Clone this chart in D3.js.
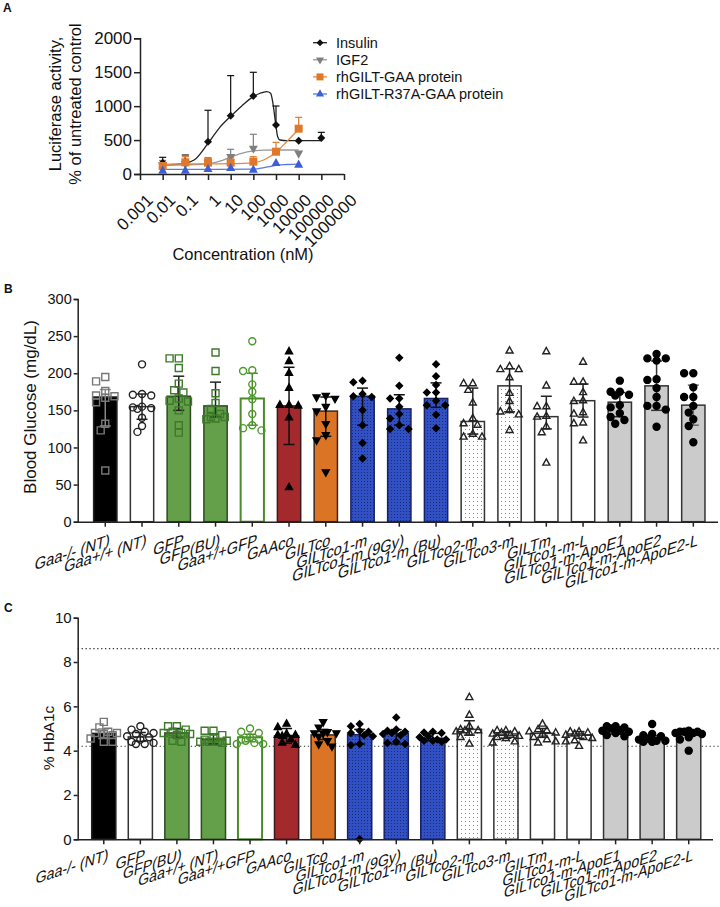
<!DOCTYPE html>
<html><head><meta charset="utf-8">
<script src="https://cdn.jsdelivr.net/npm/d3@7"></script>
<style>
body{margin:0;background:#fff;}
text{font-family:"Liberation Sans",Arial,sans-serif;fill:#111;}
</style>
</head><body>
<svg id="chart" width="720" height="907"></svg>
<script>
// ---------------- Panel A data ----------------
const concTicks = [0.001, 0.01, 0.1, 1, 10, 100, 1000, 10000, 100000, 1000000];
const concLabels = ["0.001","0.01","0.1","1","10","100","1000","10000","100000","1000000"];
const aTicks = [0, 500, 1000, 1500, 2000];
const seriesNames = ["Insulin", "IGF2", "rhGILT-GAA protein", "rhGILT-R37A-GAA protein"];

const insulinX = [0.01, 0.1, 1, 10, 100, 1000, 10000, 100000];
const insulinY = [167, 182, 477, 860, 1150, 722, 491, 531];
const insulinTop = [246, 280, 939, 1450, 1499, 1002, 491, 614];
const insulinFitX = [0.01, 0.03, 0.1, 0.3, 1, 3, 10, 30, 100, 200, 389, 580, 713, 844, 1000, 1185, 1510, 3000, 100000];
const insulinFitY = [133, 140, 160, 230, 450, 670, 850, 1000, 1140, 1190, 1214, 1190, 1066, 894, 704, 550, 501, 491, 491];

const igf2X = [0.01, 0.1, 1, 10, 100, 1000, 10000];
const igf2Y = [135, 150, 160, 255, 378, 345, 305];
const igf2Top = [200, 270, 240, 364, 585, 345, 305];
const igf2FitX = [0.01, 0.1, 1, 3, 10, 30, 100, 300, 1000, 10000];
const igf2FitY = [130, 135, 150, 185, 250, 305, 340, 352, 354, 354];

const gaaX = [0.01, 0.1, 1, 10, 100, 1000, 10000];
const gaaY = [118, 172, 167, 167, 182, 329, 668];
const gaaTop = [150, 255, 231, 240, 255, 467, 835];
const gaaFitX = [0.01, 0.1, 1, 10, 100, 300, 1000, 3000, 10000];
const gaaFitY = [140, 148, 150, 152, 165, 210, 320, 480, 660];

const r37X = [0.01, 0.1, 1, 10, 100, 1000, 10000];
const r37Y = [44, 44, 69, 84, 59, 157, 133];
const r37Top = [44, 44, 69, 84, 59, 157, 133];
const r37FitX = [0.01, 1, 100, 300, 1000, 3000, 10000];
const r37FitY = [68, 69, 72, 95, 128, 140, 146];

// ---------------- Panel B data ----------------
const bCategories = ["Gaa-/- (NT)","Gaa+/+ (NT)","GFP","GFP(BU)","Gaa+/+GFP","GAAco","GILTco","GILTco1-m","GILTco1-m (9Gy)","GILTco1-m (Bu)","GILTco2-m","GILTco3-m","GILTm","GILTco1-m-L","GILTco1-m-ApoE1","GILTco1-m-ApoE2","GILTco1-m-ApoE2-L"];
const bTicks = [0, 50, 100, 150, 200, 250, 300];
const bMeans   = [168, 155, 169, 156, 166, 156, 149, 169, 152, 166, 135, 183, 141.5, 163, 161, 183, 157];
const bErrLow  = [129, 138, 150, 141, 130, 104, 115, 130, 130, 154, 118, 148, 125, 141, 141.5, 150, 130];
const bErrHigh = [178, 172, 196, 188, 200, 208, 168, 180, 171, 187, 180, 206, 169, 185.5, 174, 216.5, 184];
const bPoints = [
  [195,189,176,170,169,167,161,132,123,69],
  [212,172,171,170,155,154,153,152,140,129,121],
  [220,220,207,186,177,174,166,163,162,150,130,120],
  [228,203,173,160,152,145,141,141,139,138],
  [243,204,203,185,175,165,145,130,126,123],
  [229,216,200,180,157,157,156,140,46],
  [170,168,166,155,149,132,117,110,67],
  [190,188,172,169,168,150,130,106,85],
  [221,183,166,166,155,145,139,130,125,125],
  [212,196,184,174,174,163,157,157,144,126],
  [186,186,177,160,139,132,130,118,114,114],
  [230,209,205,205,194,173,162,150,148,144,123],
  [229,183,155,155,142,141,128,120,79],
  [215,188,188,174,163,162,147,145,133,132,109],
  [190,175,175,171,170,157,154,146,141,137,132],
  [226,220,220,217,192,191,180,168,156,156,151,128],
  [200,200,181,168,168,156,147,138,129,107]
];

// ---------------- Panel C data ----------------
const cCategories = ["Gaa-/- (NT)","GFP","GFP(BU)","Gaa+/+ (NT)","Gaa+/+GFP","GAAco","GILTco","GILTco1-m","GILTco1-m (9Gy)","GILTco1-m (Bu)","GILTco2-m","GILTco3-m","GILTm","GILTco1-m-L","GILTco1-m-ApoE1","GILTco1-m-ApoE2","GILTco1-m-ApoE2-L"];
const cTicks = [0, 2, 4, 6, 8, 10];
const cRefLines = [8.6, 4.2];
const cMeans   = [4.78, 4.62, 4.8, 4.5, 4.6, 4.66, 4.71, 4.72, 4.78, 4.56, 4.96, 4.69, 4.78, 4.7, 4.9, 4.53, 4.83];
const cErrLow  = [4.55, 4.42, 4.6, 4.3, 4.4, 4.33, 4.5, 4.3, 4.3, 4.45, 4.7, 4.56, 4.6, 4.56, 4.75, 4.4, 4.7];
const cErrHigh = [4.98, 4.82, 5.0, 4.75, 4.74, 5.0, 4.96, 4.96, 4.95, 4.78, 5.35, 4.86, 5.0, 4.86, 5.08, 4.68, 4.93];
const cPoints = [
  [5.3,5.05,4.85,4.8,4.8,4.75,4.7,4.55,4.4,4.4],
  [5.1,4.95,4.85,4.8,4.75,4.65,4.6,4.5,4.4,4.35,4.3,4.3],
  [5.1,5.1,4.95,4.85,4.8,4.8,4.75,4.7,4.45,4.4],
  [4.9,4.9,4.7,4.55,4.5,4.45,4.4,4.4,4.4,4.35],
  [5.0,4.85,4.8,4.6,4.5,4.5,4.45,4.35,4.3,4.3],
  [5.2,5.05,4.75,4.7,4.7,4.65,4.5,4.35,4.25],
  [5.3,5.05,4.85,4.8,4.8,4.8,4.65,4.45,4.3,4.2],
  [5.2,5.1,4.9,4.85,4.8,4.7,4.65,4.3,4.25,0],
  [5.5,4.95,4.9,4.85,4.8,4.75,4.7,4.4,4.35,4.3],
  [4.85,4.82,4.8,4.65,4.6,4.5,4.5,4.45,4.45,4.4],
  [6.4,5.6,5.1,4.95,4.9,4.9,4.85,4.8,4.6,4.3],
  [4.9,4.9,4.85,4.8,4.75,4.7,4.65,4.6,4.55,4.4,4.35],
  [5.2,4.95,4.9,4.85,4.8,4.75,4.6,4.5,4.4,4.35],
  [4.85,4.85,4.8,4.75,4.7,4.6,4.55,4.45,4.4,4.2],
  [5.1,5.1,5.05,5.0,4.9,4.9,4.85,4.8,4.7,4.65],
  [5.2,4.75,4.7,4.65,4.55,4.5,4.45,4.45,4.4,4.4],
  [4.9,4.85,4.85,4.85,4.8,4.8,4.75,4.6,4.5,4.0]
];

// ---------------- Styles (by bar position) ----------------
const barFill = ["#000","#fff","#64a04a","#64a04a","#fff","#a3292c","#dc7425","url(#blueDots)","url(#blueDots)","url(#blueDots)","url(#greyDots)","url(#greyDots)","#fff","#fff","#cbcbcb","#cbcbcb","#cbcbcb"];
const barStroke = ["#222","#333","#2f4a24","#2f4a24","#4b8b2b","#3a1a1a","#3a2a1a","#1a2266","#1a2266","#1a2266","#333","#333","#333","#333","#333","#333","#333"];
const markShape = ["square","circle","square","square","circle","tri","triDown","diamond","diamond","diamond","tri","tri","tri","tri","circle","circle","circle"];
const markFill = ["none","none","none","none","none","#000","#000","#000","#000","#000","none","none","none","none","#000","#000","#000"];
const markStroke = ["#777","#222","#3d7a2a","#3d7a2a","#4b9a2b","#000","#000","#000","#000","#000","#222","#222","#222","#222","#000","#000","#000"];
const errColor = ["#888","#222","#222","#222","#4b8b2b","#111","#111","#111","#111","#111","#222","#222","#222","#222","#222","#333","#666"];

const FONT = "'Liberation Sans', Arial, sans-serif";
const svg = d3.select("#chart");
const defs = svg.append("defs");
const pb = defs.append("pattern").attr("id","blueDots").attr("patternUnits","userSpaceOnUse").attr("width",3).attr("height",3);
pb.append("rect").attr("width",3).attr("height",3).attr("fill","#3050c4");
pb.append("rect").attr("x",1).attr("y",1).attr("width",1).attr("height",1).attr("fill","#1c2a7a");
const pg = defs.append("pattern").attr("id","greyDots").attr("patternUnits","userSpaceOnUse").attr("width",4).attr("height",4);
pg.append("rect").attr("width",4).attr("height",4).attr("fill","#fff");
pg.append("rect").attr("x",1).attr("y",1).attr("width",1).attr("height",1).attr("fill","#888");

function shapePath(shape, s) {
  const h = s / 2;
  if (shape === "square") return `M${-h},${-h}h${s}v${s}h${-s}Z`;
  if (shape === "tri") return `M0,${-s*0.6}L${h},${s*0.3}L${-h},${s*0.3}Z`;
  if (shape === "triDown") return `M0,${s*0.6}L${h},${-s*0.3}L${-h},${-s*0.3}Z`;
  if (shape === "diamond") return `M0,${-h}L${h},0L0,${h}L${-h},0Z`;
  return d3.symbol(d3.symbolCircle, Math.PI * h * h)();
}

function swarm(vals, y, minD, step, maxOff) {
  const sorted = vals.slice().sort((a, b) => b - a);
  const placed = [];
  const cands = [0];
  for (let k = step; k <= maxOff + 0.01; k += step) { cands.push(-k, k); }
  sorted.forEach(v => {
    const py = y(v);
    let best = null, bestD = -1;
    for (const c of cands) {
      let md = Infinity;
      for (const p of placed) md = Math.min(md, Math.hypot(p.x - c, p.y - py));
      if (md >= minD) { best = c; bestD = md; break; }
      if (md > bestD) { bestD = md; best = c; }
    }
    placed.push({x: best, y: py, v});
  });
  return placed;
}

function styleText(sel, size) {
  sel.style("font-size", size + "px").style("font-family", FONT).attr("fill", "#111");
}

// ---------------- Panel A ----------------
(function () {
  const x = d3.scaleLog().domain([0.001, 1000000]).range([140, 344]);
  const y = d3.scaleLinear().domain([0, 2000]).range([174, 38.3]);
  const g = svg.append("g");
  g.append("text").attr("x", 3).attr("y", 12).style("font-size", "12px").attr("font-weight", "bold").text("A");

  const yAx = g.append("g").attr("transform", "translate(140,0)")
    .call(d3.axisLeft(y).tickValues(aTicks).tickSize(6).tickPadding(2).tickFormat(d3.format("d")));
  const xAx = g.append("g").attr("transform", "translate(0,174)")
    .call(d3.axisBottom(x).tickValues(concTicks).tickSize(6).tickFormat((d, i) => concLabels[i]));
  [yAx, xAx].forEach(a => {
    a.select(".domain").attr("stroke", "#222").attr("stroke-width", 1.5);
    a.selectAll(".tick line").attr("stroke", "#222").attr("stroke-width", 1.5);
    styleText(a.selectAll("text"), 17);
  });
  xAx.selectAll(".domain").attr("d", "M140,0.5H344");
  xAx.selectAll(".tick text").attr("text-anchor", "end").attr("dy", 0)
    .attr("transform", "translate(7,21) rotate(-45)");

  g.append("text").style("font-size", "16.5px").attr("text-anchor", "middle")
    .attr("x", 243).attr("y", 260).text("Concentration (nM)");
  const yt = g.append("text").style("font-size", "16.5px").attr("text-anchor", "middle")
    .attr("transform", "translate(81,104) rotate(-90)");
  yt.append("tspan").attr("x", 0).attr("dy", -20).text("Luciferase activity,");
  yt.append("tspan").attr("x", 0).attr("dy", 20).text("% of untreated control");

  const series = [
    {name: seriesNames[0], xs: insulinX, ys: insulinY, top: insulinTop, fx: insulinFitX, fy: insulinFitY, color: "#111", line: "#222", shape: "diamond", size: 8},
    {name: seriesNames[1], xs: igf2X, ys: igf2Y, top: igf2Top, fx: igf2FitX, fy: igf2FitY, color: "#7f7f7f", line: "#999", shape: "triDown", size: 9},
    {name: seriesNames[2], xs: gaaX, ys: gaaY, top: gaaTop, fx: gaaFitX, fy: gaaFitY, color: "#e0782a", line: "#e5893f", shape: "square", size: 8},
    {name: seriesNames[3], xs: r37X, ys: r37Y, top: r37Top, fx: r37FitX, fy: r37FitY, color: "#3a5fd8", line: "#5a78e0", shape: "tri", size: 9}
  ];
  const line = d3.line().x(d => x(d[0])).y(d => y(d[1])).curve(d3.curveMonotoneX);
  series.forEach(s => {
    g.append("path").attr("d", line(s.fx.map((v, i) => [v, s.fy[i]])))
      .attr("fill", "none").attr("stroke", s.line).attr("stroke-width", 1.3);
  });
  series.forEach(s => {
    s.xs.forEach((xv, i) => {
      if (s.top[i] > s.ys[i] + 1) {
        const px = x(xv);
        g.append("line").attr("x1", px).attr("x2", px).attr("y1", y(s.ys[i])).attr("y2", y(s.top[i]))
          .attr("stroke", s.color).attr("stroke-width", 1.2);
        g.append("line").attr("x1", px - 3.5).attr("x2", px + 3.5).attr("y1", y(s.top[i])).attr("y2", y(s.top[i]))
          .attr("stroke", s.color).attr("stroke-width", 1.2);
      }
    });
  });
  series.forEach(s => {
    g.selectAll(null).data(s.xs).enter().append("path")
      .attr("d", shapePath(s.shape, s.size))
      .attr("transform", (d, i) => `translate(${x(d)},${y(s.ys[i])})`)
      .attr("fill", s.color);
  });
  const lg = g.append("g");
  series.forEach((s, i) => {
    const yy = 42.7 + i * 17.1;
    lg.append("line").attr("x1", 313).attr("x2", 327).attr("y1", yy).attr("y2", yy).attr("stroke", s.line).attr("stroke-width", 1.3);
    lg.append("path").attr("d", shapePath(s.shape, s.size - 1)).attr("transform", `translate(320,${yy})`).attr("fill", s.color);
    lg.append("text").attr("x", 336).attr("y", yy + 5).style("font-size", "14.5px").text(s.name);
  });
})();

// ---------------- Bar panels ----------------
function barPanel(o) {
  const g = svg.append("g");
  const x = d3.scaleBand().domain(o.cats).range(o.xRange).paddingInner(o.pad).paddingOuter(o.pad / 2);
  const y = d3.scaleLinear().domain(o.yDomain).range(o.yRange);
  const bw = x.bandwidth();
  g.append("text").attr("x", 4).attr("y", o.letterY).style("font-size", "12px").attr("font-weight", "bold").text(o.letter);

  if (o.refLines) {
    g.selectAll(null).data(o.refLines).enter().append("line")
      .attr("x1", o.axisX).attr("x2", 720).attr("y1", d => y(d)).attr("y2", d => y(d))
      .attr("stroke", "#333").attr("stroke-width", 1.2).attr("stroke-dasharray", "1.3,2.6");
  }
  g.selectAll(null).data(o.cats).enter().append("rect")
    .attr("x", d => x(d)).attr("width", bw)
    .attr("y", (d, i) => y(o.means[i])).attr("height", (d, i) => y(0) - y(o.means[i]))
    .attr("fill", (d, i) => barFill[i]).attr("stroke", (d, i) => barStroke[i])
    .attr("stroke-width", (d, i) => i === 4 ? 2 : 1.5);
  o.cats.forEach((c, i) => {
    const cx = x(c) + bw / 2;
    const col = errColor[i];
    g.append("line").attr("x1", cx).attr("x2", cx).attr("y1", y(o.lo[i])).attr("y2", y(o.hi[i])).attr("stroke", col).attr("stroke-width", 1.5);
    [o.lo[i], o.hi[i]].forEach(v => {
      g.append("line").attr("x1", cx - 5.5).attr("x2", cx + 5.5).attr("y1", y(v)).attr("y2", y(v)).attr("stroke", col).attr("stroke-width", 1.5);
    });
  });
  o.cats.forEach((c, i) => {
    const cx = x(c) + bw / 2;
    const pts = swarm(o.points[i], y, o.minD, o.step, o.maxOff);
    const sz = markShape[i] === "diamond" ? o.mSize - 0.5 : o.mSize;
    g.selectAll(null).data(pts).enter().append("path")
      .attr("d", shapePath(markShape[i], sz))
      .attr("transform", p => `translate(${cx + p.x},${p.y})`)
      .attr("fill", markFill[i]).attr("stroke", markStroke[i]).attr("stroke-width", 1.4);
  });
  const yAx = g.append("g").attr("transform", `translate(${o.axisX},0)`)
    .call(d3.axisLeft(y).tickValues(o.ticks).tickSize(4).tickPadding(2));
  yAx.select(".domain").attr("stroke", "#222").attr("stroke-width", 1.5);
  yAx.selectAll(".tick line").attr("stroke", "#222").attr("stroke-width", 1.5);
  styleText(yAx.selectAll("text"), o.tickFont);
  const xAx = g.append("g").attr("transform", `translate(0,${y(0)})`)
    .call(d3.axisBottom(x).tickSize(5).tickSizeOuter(0));
  xAx.select(".domain").attr("d", `M${o.axisX},0.5H${o.axisEnd}`).attr("stroke", "#222").attr("stroke-width", 1.5);
  xAx.selectAll(".tick line").attr("stroke", "#222").attr("stroke-width", 1.5);
  styleText(xAx.selectAll(".tick text"), o.catFont);
  xAx.selectAll(".tick text")
    .attr("text-anchor", "end").attr("y", 0).attr("dy", 0)
    .attr("transform", `translate(4,${o.catDy}) rotate(-18) skewX(-26)`);
  g.append("text").style("font-size", o.titleFont + "px").attr("text-anchor", "middle")
    .attr("transform", `translate(${o.titleX},${o.titleY}) rotate(-90)`).text(o.title);
}

barPanel({
  letter: "B", letterY: 293,
  cats: bCategories, means: bMeans, lo: bErrLow, hi: bErrHigh, points: bPoints,
  xRange: [86.9, 711.7], pad: 0.366, yDomain: [0, 300], yRange: [521.7, 299], ticks: bTicks,
  axisX: 77.7, axisEnd: 718, tickFont: 14.5, catFont: 15.5, catDy: 24, title: "Blood Glucose (mg/dL)", titleX: 36, titleY: 407, titleFont: 17,
  mSize: 7, minD: 7, step: 4.6, maxOff: 11.5
});

barPanel({
  letter: "C", letterY: 612,
  cats: cCategories, means: cMeans, lo: cErrLow, hi: cErrHigh, points: cPoints, refLines: cRefLines,
  xRange: [85.5, 707], pad: 0.34, yDomain: [0, 10], yRange: [839.3, 617.7], ticks: cTicks,
  axisX: 77.7, axisEnd: 713, tickFont: 15, catFont: 15, catDy: 21, title: "% HbA1c", titleX: 54, titleY: 738, titleFont: 15.5,
  mSize: 7, minD: 6.5, step: 4.4, maxOff: 13.2
});
</script>
</body></html>
